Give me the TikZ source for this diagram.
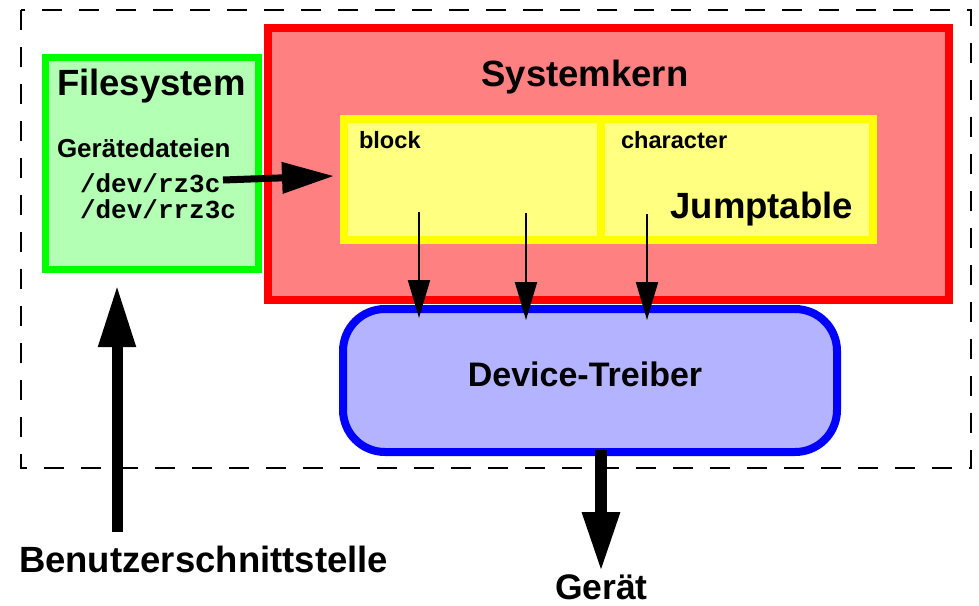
\documentclass[tikz,border=0pt]{standalone}
\usepackage{fontspec}
\setmainfont{Liberation Sans}
\setmonofont{Liberation Mono}
\usetikzlibrary{arrows.meta}

\definecolor{fsfill}{HTML}{B3FFB3}
\definecolor{fsline}{HTML}{00FF00}
\definecolor{kfill}{HTML}{FF8080}
\definecolor{kline}{HTML}{FF0000}
\definecolor{jfill}{HTML}{FFFF80}
\definecolor{jline}{HTML}{FFFF00}
\definecolor{dfill}{HTML}{B3B3FF}
\definecolor{dline}{HTML}{0000FF}

\begin{document}
\begin{tikzpicture}[x=1pt,y=-1pt,
  box/.style={rectangle,anchor=north west,inner sep=0pt,outer sep=0pt,line width=7.5pt},
  big/.style={font=\bfseries\fontsize{36.5}{40}\selectfont},
  mid/.style={font=\bfseries\fontsize{26}{30}\selectfont},
  small/.style={font=\bfseries\fontsize{23.6}{28}\selectfont},
  devname/.style={font=\ttfamily\bfseries\fontsize{26}{30}\selectfont},
  txt/.style={inner sep=0pt,outer sep=0pt},
  fatarrow/.style={line width=7pt,-{Triangle[length=52pt,width=30pt]}},
  userarrow/.style={line width=11pt,-{Triangle[length=62pt,width=35pt]}},
  outarrow/.style={line width=12pt,-{Triangle[length=60pt,width=35pt]}},
  thinarrow/.style={line width=2pt,-{Triangle[length=38pt,width=22pt]}}]
\useasboundingbox (0,0) rectangle (979,605);

% dashed frame of the kernel side
\draw[line width=2.5pt,dash pattern=on 20pt off 17pt] (21,10) rectangle (971,468);

% filesystem
\node[box,draw=fsline,fill=fsfill,minimum width=213pt,minimum height=212pt]
  (fs) at (45.5,57.5) {};
% kernel
\node[box,draw=kline,fill=kfill,minimum width=681pt,minimum height=272pt]
  (kern) at (268,28) {};
% jump table with its two halves
\node[box,draw=jline,fill=jfill,line width=8pt,minimum width=529pt,minimum height=121pt]
  (jt) at (344,119) {};
\draw[jline,line width=8pt] (601,119) -- (601,240);
% device driver
\node[box,draw=dline,fill=dfill,line width=8pt,rounded corners=42pt,
  minimum width=494pt,minimum height=143pt] (dev) at (343,309) {};

% labels
\node[txt,big,anchor=base west] (fstitle) at (57,95) {Filesystem};
\node[txt,mid,anchor=base west] (gd) at (57,157) {Gerätedateien};
\node[txt,devname,anchor=base west] (rz) at (80,192) {/dev/rz3c};
\node[txt,devname,anchor=base west] (rrz) at (80,218) {/dev/rrz3c};
\node[txt,big,anchor=base] (ktitle) at (585,86) {Systemkern};
\node[txt,small,anchor=base west] (blk) at (359,148) {block};
\node[txt,small,anchor=base west] (chr) at (621,148) {character};
\node[txt,big,anchor=base east] (jtl) at (853,218) {Jumptable};
\node[txt,big,anchor=base,font=\bfseries\fontsize{34}{38}\selectfont] (devl) at (585,386) {Device-Treiber};
\node[txt,big,anchor=base west] (ui) at (19,572) {Benutzerschnittstelle};
\node[txt,big,anchor=base west,font=\bfseries\fontsize{35.5}{40}\selectfont] (hw) at (555,599) {Gerät};

% connector end points
\coordinate (rzend) at (223,180);
\coordinate (jtin) at (334,176);
\coordinate (uistart) at (117,532);
\coordinate (fsin) at (117,285);
\coordinate (devout) at (601,450);
\coordinate (hwin) at (601,572);
\coordinate (b1) at (419,212);
\coordinate (b2) at (526,213);
\coordinate (c1) at (647,214);
\coordinate (d1) at (419,318);
\coordinate (d2) at (526,320);
\coordinate (d3) at (647,320);

% connectors
\draw[fatarrow] (rzend) -- (jtin);
\draw[userarrow] (uistart) -- (fsin);
\draw[outarrow] (devout) -- (hwin);
\draw[thinarrow] (b1) -- (d1);
\draw[thinarrow] (b2) -- (d2);
\draw[thinarrow] (c1) -- (d3);
\end{tikzpicture}
\end{document}
